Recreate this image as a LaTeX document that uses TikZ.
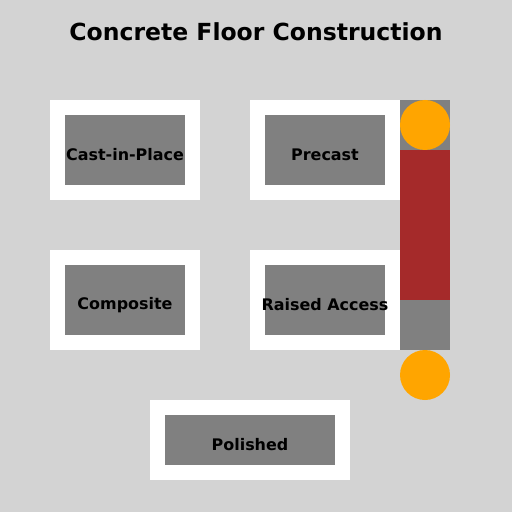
\documentclass[tikz,border=0pt]{standalone}
\usepackage{fontspec}
\setmainfont{DejaVu Sans}
\usepackage{tikz}
\usetikzlibrary{positioning}
\definecolor{bggray}{HTML}{D3D3D3}
\definecolor{midgray}{HTML}{808080}
\definecolor{brickred}{HTML}{A52A2A}
\definecolor{lamp}{HTML}{FFA500}

\begin{document}
\begin{tikzpicture}[x=1bp, y=-1bp,
    frame/.style={fill=white, draw=none},
    slab/.style={fill=midgray, draw=none},
    lbl/.style={font=\bfseries\fontsize{16}{19}\selectfont, text=black, inner sep=0pt}]
    \fill[bggray] (0,0) rectangle (512,512);
    \useasboundingbox (0,0) rectangle (512,512);
    \node[font=\bfseries\fontsize{23.6}{28}\selectfont, inner sep=0pt] (title) at (256,32) {Concrete Floor Construction};
    \fill[frame] (50,100) rectangle (200,200);
    \fill[slab] (65,115) rectangle (185,185);
    \fill[frame] (250,100) rectangle (400,200);
    \fill[slab] (265,115) rectangle (385,185);
    \fill[frame] (50,250) rectangle (200,350);
    \fill[slab] (65,265) rectangle (185,335);
    \fill[frame] (250,250) rectangle (400,350);
    \fill[slab] (265,265) rectangle (385,335);
    \fill[frame] (150,400) rectangle (350,480);
    \fill[slab] (165,415) rectangle (335,465);
    \node[lbl] (cast) at (125,155) {Cast-in-Place};
    \node[lbl] (precast) at (325,155) {Precast};
    \node[lbl] (composite) at (125,305) {Composite};
    \node[lbl] (raised) at (325,305) {Raised Access};
    \node[lbl] (polished) at (250,445) {Polished};
    \fill[midgray] (400,100) rectangle (450,350);
    \fill[brickred] (400,150) rectangle (450,300);
    \fill[lamp] (425,125) circle (25);
    \fill[lamp] (425,375) circle (25);
\end{tikzpicture}
\end{document}
